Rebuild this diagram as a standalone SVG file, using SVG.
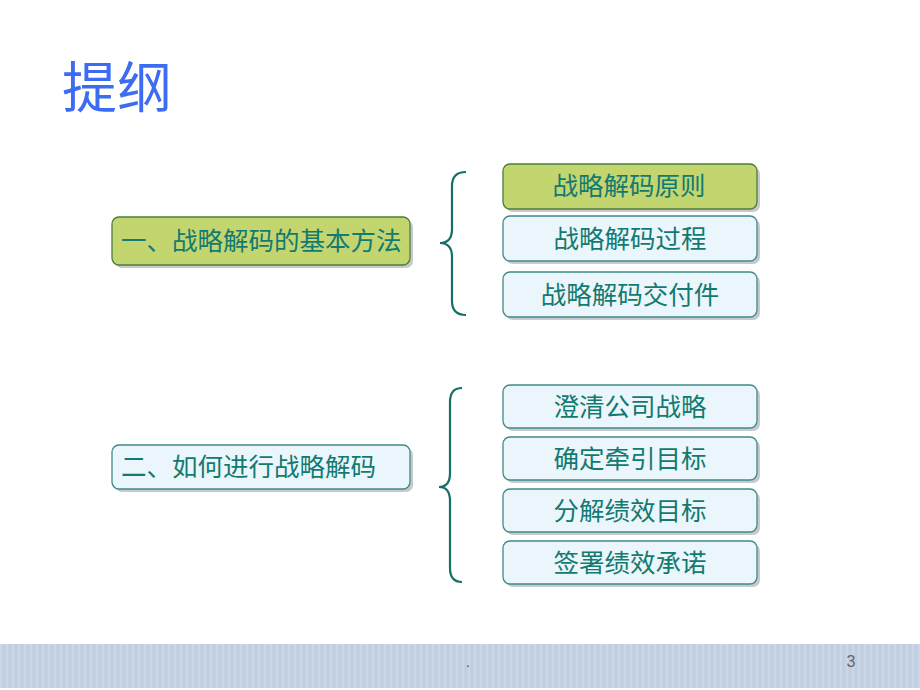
<svg xmlns="http://www.w3.org/2000/svg" width="920" height="690" viewBox="0 0 920 690">
<defs>
<pattern id="grid" width="6" height="44" patternUnits="userSpaceOnUse">
<rect width="6" height="44" fill="#c3d1e2"/>
<line x1="1" y1="0" x2="1" y2="44" stroke="#d3deea" stroke-width="1"/>
<line x1="4" y1="0" x2="4" y2="44" stroke="#b8c7d9" stroke-width="0.6"/>
</pattern>
</defs>
<style>
.t{font-family:"Noto Sans CJK SC","Liberation Sans",sans-serif;font-size:25.5px;fill:#127a70}
.g{fill:#c3d56f;stroke:#4c7d3e;stroke-width:1.3}
.b{fill:#eaf6fb;stroke:#3f8a86;stroke-width:1.3}
.sh{fill:#b9bcc2;opacity:0.8}
.br{fill:none;stroke:#146f66;stroke-width:2.2}
</style>
<rect width="920" height="690" fill="#ffffff"/>
<text x="62" y="107" style="font-family:'Noto Sans CJK SC',sans-serif;font-size:55px;fill:#3c6cf2">提纲</text>

<g id="connectors">
<path class="br" d="M466,172 Q452,172 452,186 L452,229 Q452,243 440,243 Q452,243 452,257 L452,301 Q452,315 466,315"/>
<path class="br" d="M462,388 Q450,388 450,402 L450,473 Q450,487 439,487 Q450,487 450,501 L450,568 Q450,582 462,582"/>
</g>

<g id="n1"><rect class="sh" x="115" y="220" width="298" height="48" rx="7"/><rect class="g" x="112" y="217" width="298" height="48" rx="7"/><text class="t" x="121" y="250">一、战略解码的基本方法</text></g>
<g id="n2"><rect class="sh" x="115" y="448" width="298" height="44" rx="7"/><rect class="b" x="112" y="445" width="298" height="44" rx="7"/><text class="t" x="121" y="476">二、如何进行战略解码</text></g>

<g id="r1"><rect class="sh" x="506" y="167" width="254" height="45" rx="7"/><rect class="g" x="503" y="164" width="254" height="45" rx="7"/><text class="t" x="629" y="195" text-anchor="middle">战略解码原则</text></g>
<g id="r2"><rect class="sh" x="506" y="219" width="254" height="45" rx="7"/><rect class="b" x="503" y="216" width="254" height="45" rx="7"/><text class="t" x="630" y="248" text-anchor="middle">战略解码过程</text></g>
<g id="r3"><rect class="sh" x="506" y="275" width="254" height="45" rx="7"/><rect class="b" x="503" y="272" width="254" height="45" rx="7"/><text class="t" x="630" y="304" text-anchor="middle">战略解码交付件</text></g>

<g id="s1"><rect class="sh" x="506" y="388" width="254" height="43" rx="7"/><rect class="b" x="503" y="385" width="254" height="43" rx="7"/><text class="t" x="630" y="416" text-anchor="middle">澄清公司战略</text></g>
<g id="s2"><rect class="sh" x="506" y="440" width="254" height="43" rx="7"/><rect class="b" x="503" y="437" width="254" height="43" rx="7"/><text class="t" x="630" y="468" text-anchor="middle">确定牵引目标</text></g>
<g id="s3"><rect class="sh" x="506" y="492" width="254" height="43" rx="7"/><rect class="b" x="503" y="489" width="254" height="43" rx="7"/><text class="t" x="630" y="520" text-anchor="middle">分解绩效目标</text></g>
<g id="s4"><rect class="sh" x="506" y="544" width="254" height="43" rx="7"/><rect class="b" x="503" y="541" width="254" height="43" rx="7"/><text class="t" x="630" y="572" text-anchor="middle">签署绩效承诺</text></g>

<rect x="0" y="644" width="920" height="44" fill="url(#grid)"/>
<text x="466" y="667" style="font-family:'Liberation Sans',sans-serif;font-size:14px;fill:#555">.</text>
<text x="851" y="667" text-anchor="middle" style="font-family:'Liberation Sans',sans-serif;font-size:16px;fill:#666">3</text>
</svg>
